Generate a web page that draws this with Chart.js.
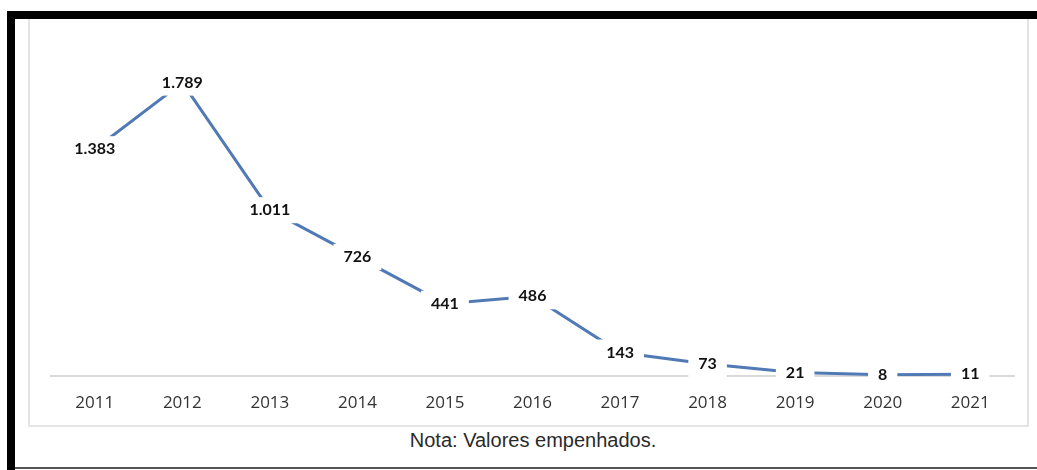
<!DOCTYPE html>
<html>
<head>
<meta charset="utf-8">
<script src="https://cdn.jsdelivr.net/npm/chart.js@4.4.1/dist/chart.umd.min.js"></script>
<style>
  html, body { margin: 0; padding: 0; background: #fff; }
  body { width: 1037px; height: 470px; position: relative; overflow: hidden; }
  .bar { position: absolute; background: #000; }
  #top { left: 7px; top: 11px; width: 1030px; height: 8px; }
  #left { left: 7px; top: 11px; width: 8px; height: 459px; }
  #bottom { position: absolute; left: 15px; top: 467px; width: 1022px; height: 2px; background: #555; }
  #box { position: absolute; left: 28px; top: 19px; width: 997px; height: 406px; border: 2px solid #e4e4e4; border-top: none; }
  #wrap { position: absolute; left: 28px; top: 19px; width: 999px; height: 408px; }
  #nota { position: absolute; left: 15px; width: 1036px; top: 429px; text-align: center;
          font-family: "Liberation Sans", Arial, sans-serif; font-size: 20px; color: #2a2a2a; }
</style>
</head>
<body>
<div class="bar" id="top"></div>
<div class="bar" id="left"></div>
<div id="bottom"></div>
<div id="box"></div>
<div id="wrap"><canvas id="chart"></canvas></div>
<div id="nota">Nota: Valores empenhados.</div>
<script>
// anos e valores empenhados
const years = ['2011', '2012', '2013', '2014', '2015', '2016', '2017', '2018', '2019', '2020', '2021'];
const values = [1383, 1789, 1011, 726, 441, 486, 143, 73, 21, 8, 11];
const labels = ['1.383', '1.789', '1.011', '726', '441', '486', '143', '73', '21', '8', '11'];

// rótulos com fundo branco, cortando a linha em volta do número
const valueLabels = {
  id: 'valueLabels',
  afterDatasetsDraw(chart) {
    const ctx = chart.ctx;
    const meta = chart.getDatasetMeta(0);
    ctx.save();
    ctx.font = 'bold 16px Lato, sans-serif';
    ctx.textAlign = 'center';
    ctx.textBaseline = 'middle';
    meta.data.forEach((pt, i) => {
      const txt = labels[i];
      const w = ctx.measureText(txt).width;
      ctx.fillStyle = '#fff';
      ctx.fillRect(pt.x - w / 2 - 10, pt.y - 13, w + 20, 26);
      ctx.fillStyle = '#111';
      ctx.fillText(txt, pt.x, pt.y);
    });
    ctx.restore();
  }
};

new Chart(document.getElementById('chart'), {
  type: 'line',
  data: {
    labels: years,
    datasets: [{
      data: values,
      borderColor: '#5179b5',
      borderWidth: 3,
      pointRadius: 0,
      tension: 0,
      fill: false
    }]
  },
  options: {
    responsive: true,
    maintainAspectRatio: false,
    animation: false,
    layout: { padding: { left: 23, right: 13, top: 29, bottom: 1 } },
    plugins: { legend: { display: false }, tooltip: { enabled: false } },
    scales: {
      x: {
        offset: true,
        grid: { display: false, drawTicks: false },
        border: { display: true, color: '#d9d9d9', width: 2 },
        ticks: { color: '#333', padding: 17, font: { family: 'Open Sans', size: 17 } },
        afterFit(scale) { scale.height = 50; }
      },
      y: {
        display: false,
        min: 0,
        max: 2000
      }
    }
  },
  plugins: [valueLabels]
});
</script>
</body>
</html>
